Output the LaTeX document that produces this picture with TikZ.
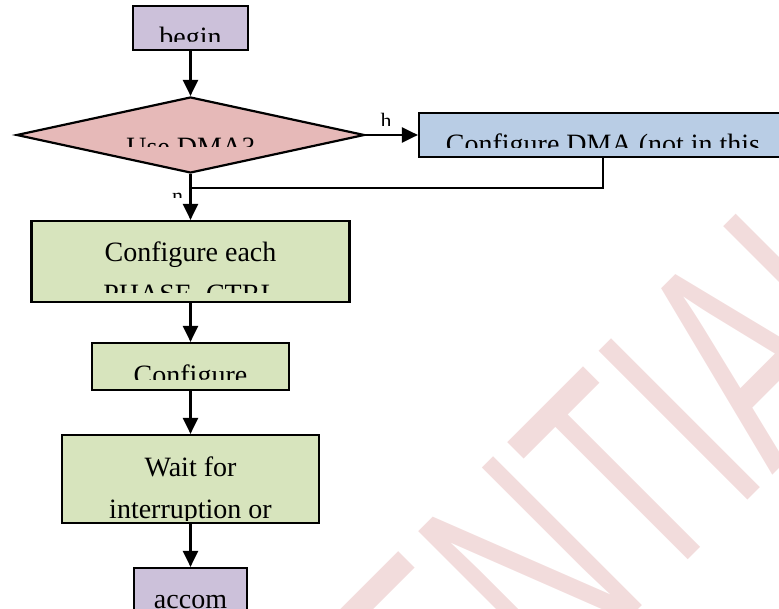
\documentclass[tikz,border=0pt]{standalone}
\usepackage{fontspec}
\setmainfont{Liberation Serif}
\newfontfamily\wmfont{Liberation Sans}
\usetikzlibrary{arrows.meta,shapes.geometric}
\definecolor{lav}{HTML}{CCC1DA}
\definecolor{dpink}{HTML}{E6B9B8}
\definecolor{lblue}{HTML}{B9CDE5}
\definecolor{lgreen}{HTML}{D7E4BD}
\definecolor{wm}{RGB}{242,220,220}
\tikzset{
  box/.style={rectangle, draw=black, line width=2.2pt, inner sep=0pt},
  conn/.style={draw=black, line width=2.2pt},
  arr/.style={conn, -{Triangle[length=16pt,width=15pt]}},
  txt/.style={font=\fontsize{28}{42}\selectfont, anchor=base, inner sep=0pt},
  lbl/.style={font=\fontsize{22}{26}\selectfont, anchor=base, inner sep=0pt},
}
\begin{document}
\begin{tikzpicture}[x=1pt,y=-1pt]
\useasboundingbox (0,0) rectangle (779,609);
\clip (0,0) rectangle (779,609);
% watermark
\begin{scope}[shift={(-47.5,1295.5)}]
  \node[rotate=45, xscale=0.62, anchor=base west, inner sep=0pt, text=wm,
        font=\wmfont\fontsize{306}{306}\selectfont] (wmark) at (0,0) {CONFIDENTIAL};
\end{scope}
% shapes
\node[box, fill=lav, minimum width=115pt, minimum height=44pt] (begin) at (190.5,28) {};
\node[diamond, draw=black, line width=2.2pt, fill=dpink, minimum width=348pt,
      minimum height=76pt, inner sep=0pt] (dec) at (190.5,135) {};
\node[box, fill=lblue, minimum width=368pt, minimum height=44pt] (dma) at (603,135) {};
\node[box, fill=lgreen, minimum width=318pt, minimum height=81pt] (cfg1) at (190.5,261.5) {};
\node[box, fill=lgreen, minimum width=197pt, minimum height=47pt] (cfg2) at (190.5,366.5) {};
\node[box, fill=lgreen, minimum width=257pt, minimum height=88pt] (wait) at (190.5,479) {};
\node[box, fill=lav, minimum width=113pt, minimum height=44pt] (accom) at (190.5,590) {};
% clipped texts
\begin{scope}\clip (136,8) rectangle (245,42);
  \node[txt] (begin-t) at (190.5,46.5) {begin};\end{scope}
\begin{scope}\clip (102,116) rectangle (279,147);
  \node[txt] (dec-t) at (190.5,156.5) {Use DMA?};\end{scope}
\begin{scope}\clip (421,115) rectangle (785,148);
  \node[txt] (dma-t) at (603,153.5) {Configure DMA (not in this};\end{scope}
\begin{scope}\clip (34,223) rectangle (348,293);
  \node[txt] (cfg1-t1) at (190.5,261.5) {Configure each};
  \node[txt] (cfg1-t2) at (190.5,303.5) {PHASE\_CTRL};\end{scope}
\begin{scope}\clip (94,345) rectangle (287,380);
  \node[txt] (cfg2-t) at (190.5,384.5) {Configure};\end{scope}
\begin{scope}\clip (64,437) rectangle (317,520);
  \node[txt] (wait-t1) at (190.5,476.5) {Wait for};
  \node[txt] (wait-t2) at (190.5,518.5) {interruption or};\end{scope}
\begin{scope}\clip (135,570) rectangle (244,610);
  \node[txt] (accom-t) at (190.5,608.5) {accom};\end{scope}
% connectors
\coordinate (j) at (190.5,188);
\draw[arr] (begin.south) -- (dec.north);
\draw[arr] (dec.east) -- (dma.west);
\draw[arr] (dec.south) -- (cfg1.north);
\draw[conn] (dma.south) |- (j);
\draw[arr] (cfg1.south) -- (cfg2.north);
\draw[arr] (cfg2.south) -- (wait.north);
\draw[arr] (wait.south) -- (accom.north);
% edge labels
\begin{scope}\clip (370,100) rectangle (408,126);
  \node[lbl] (lab-h) at (386,129) {h};\end{scope}
\begin{scope}\clip (160,185) rectangle (188,198);
  \node[lbl] (lab-n) at (177.5,203.1) {n};\end{scope}
\end{tikzpicture}
\end{document}
